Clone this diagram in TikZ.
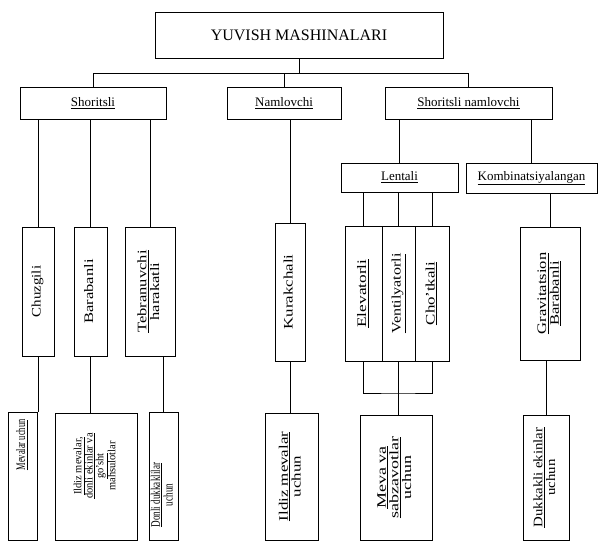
\documentclass[tikz,border=0pt]{standalone}
\usepackage{fontspec}
\setmainfont{Liberation Serif}
% rotated (bottom to top) text, optional horizontal stretch
\newcommand{\vtext}[2][1.27]{\rotatebox{90}{\scalebox{#1}[1]{\begin{tabular}{@{}c@{}}#2\end{tabular}}}}

\begin{document}
\begin{tikzpicture}[x=1pt, y=-1pt,
	box/.style={rectangle, draw=black, line width=0.9pt, inner sep=0pt, font=\fontsize{13}{15}\selectfont},
	tallbox/.style={box, font=\fontsize{13}{12}\selectfont},
	edge/.style={line width=0.9pt}]
	\useasboundingbox (0,0) rectangle (598,543);

	\node[box, minimum width=288, minimum height=46, font=\fontsize{16}{18}\selectfont](title) at (299,35){YUVISH MASHINALARI};

	\node[box, minimum width=146, minimum height=32](sh) at (93,103){\underline{Shoritsli}};
	\node[box, minimum width=114, minimum height=32](nam) at (284,103){\underline{Namlovchi}};
	\node[box, minimum width=167, minimum height=32](sn) at (468.5,103){\underline{Shoritsli namlovchi}};

	\node[box, minimum width=117, minimum height=29](len) at (399.5,177.5){\underline{Lentali}};
	\node[box, minimum width=131, minimum height=30](komb) at (531.5,178){\underline{Kombinatsiyalangan}};

	\node[tallbox, minimum width=32, minimum height=129](chuz) at (38,291.5){\vtext[1.15]{Chuzgili}};
	\node[tallbox, minimum width=33, minimum height=129](bar) at (90.5,291.5){\vtext{Barabanli}};
	\node[tallbox, minimum width=50, minimum height=129](teb) at (150,291.5){\vtext{\underline{Tebranuvchi}\\harakatli}};
	\node[tallbox, minimum width=30, minimum height=138](kur) at (290,292){\vtext[1.3]{Kurakchali}};
	\node[tallbox, minimum width=37, minimum height=135](elev) at (363.5,293.5){\vtext[1.33]{\underline{Elevatorli}}};
	\node[tallbox, minimum width=33, minimum height=135](vent) at (398.5,293.5){\vtext[1.23]{\underline{Ventilyatorli}}};
	\node[tallbox, minimum width=34, minimum height=135](cho) at (432,293.5){\vtext[1.3]{\underline{Cho'tkali}}};
	\node[tallbox, minimum width=60, minimum height=133](grav) at (550,293.5){\vtext{\underline{Gravitatsion}\\\underline{Barabanli}}};

	\node[tallbox, minimum width=29, minimum height=128](mev) at (22.5,476){};
	\node[tallbox, minimum width=82, minimum height=127](ild) at (96,476.5){};
	\node[tallbox, minimum width=29, minimum height=128](don) at (163.5,476){};
	\node[tallbox, minimum width=53, minimum height=127](ildm) at (291.5,476.5){\vtext[1.3]{\underline{Ildiz mevalar}\\uchun}};
	\node[tallbox, minimum width=72, minimum height=125](mevsab) at (396,477.5){\vtext[1.38]{\underline{Meva va}\\\underline{sabzavotlar}\\uchun}};
	\node[tallbox, minimum width=46, minimum height=125](dukk) at (546,477.5){\vtext[1.14]{\underline{Dukkakli ekinlar}\\uchun}};

	% texts of the left bottom boxes
	\node[font=\fontsize{13}{12}\selectfont, inner sep=0pt](mevText) at (22.5,445){\vtext[0.65]{\underline{Mevalar uchun}}};
	\node[font=\fontsize{11}{10}\selectfont, inner sep=0pt](ildText) at (96,466){\vtext[0.95]{\underline{Ildiz mevalar,}\\\underline{donli ekinlar va}\\\underline{go'sht}\\mahsulotlar}};
	\node[font=\fontsize{13}{12}\selectfont, inner sep=0pt](donText) at (163.5,495){\vtext[0.7]{\underline{Donli dukkaklilar}\\uchun}};

	% draw top edges
	\draw[edge] (title.south) -- ++(0,15) coordinate (bus);
	\draw[edge] (sh.north) |- (bus) -| (sn.north);
	\draw[edge] (nam.north) -- (nam.north |- bus);

	% draw second level edges
	\draw[edge] (sh.south -| chuz.north) -- (chuz.north);
	\draw[edge] (sh.south -| bar.north) -- (bar.north);
	\draw[edge] (sh.south -| teb.north) -- (teb.north);
	\draw[edge] (nam.south -| kur.north) -- (kur.north);
	\draw[edge] (sn.south -| len.north) -- (len.north);
	\draw[edge] (sn.south -| komb.north) -- (komb.north);
	\draw[edge] (len.south -| elev.north) -- (elev.north);
	\draw[edge] (len.south -| vent.north) -- (vent.north);
	\draw[edge] (len.south -| cho.north) -- (cho.north);
	\draw[edge] (komb.south -| grav.north) -- (grav.north);

	% draw bottom edges
	\draw[edge] (chuz.south) -- (chuz.south |- mev.north);
	\draw[edge] (bar.south) -- (bar.south |- ild.north);
	\draw[edge] (teb.south -| don.north) -- (don.north);
	\draw[edge] (kur.south) -- (kur.south |- ildm.north);
	\coordinate (lentJoin) at (398.5,393);
	\draw[edge] (elev.south) |- (lentJoin) -| (cho.south);
	\draw[edge] (vent.south) -- (vent.south |- mevsab.north);
	\draw[edge] (grav.south -| dukk.north) -- (dukk.north);
\end{tikzpicture}
\end{document}
